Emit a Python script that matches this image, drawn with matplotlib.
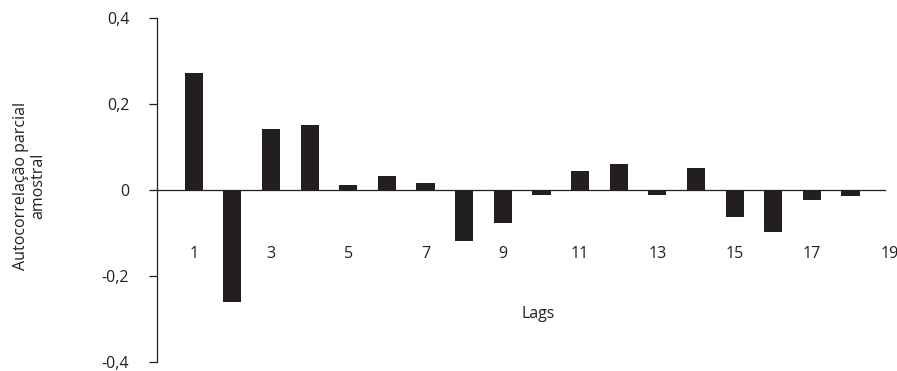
import matplotlib
matplotlib.use('Agg')
import matplotlib.pyplot as plt

lags = list(range(1, 19))
pacf = [0.272, -0.262, 0.141, 0.152, 0.011, 0.033, 0.017, -0.120, -0.078, -0.012,
        0.045, 0.061, -0.012, 0.050, -0.064, -0.097, -0.024, -0.014]
tick_lags = [1, 3, 5, 7, 9, 11, 13, 15, 17, 19]
y_ticks = [-0.4, -0.2, 0, 0.2, 0.4]
y_labels = ['-0,4', '-0,2', '0', '0,2', '0,4']

plt.rcParams['font.family'] = ['Open Sans', 'DejaVu Sans']
col = '#231f20'

fig = plt.figure(figsize=(8.97, 3.71), dpi=100)
ax = fig.add_axes([0.175, 0.025, 0.812, 0.926])

ax.bar(lags, pacf, width=0.47, color=col, zorder=3)

ax.set_xlim(0.05, 18.9)
ax.set_ylim(-0.4, 0.4)

ax.spines['top'].set_visible(False)
ax.spines['right'].set_visible(False)
ax.spines['bottom'].set_position(('data', 0))
ax.spines['bottom'].set_color(col)
ax.spines['left'].set_color(col)
ax.spines['bottom'].set_linewidth(0.9)
ax.spines['left'].set_linewidth(0.9)

ax.set_xticks([])
ax.set_yticks(y_ticks)
ax.set_yticklabels(y_labels, fontsize=11.5, color=col)
ax.tick_params(axis='y', direction='out', length=6, width=0.9, color=col, pad=14)

for lag in tick_lags:
    ax.text(lag, -0.15, str(lag), ha='center', va='center', fontsize=11.5,
            color=col, clip_on=False)

ax.text(9.92, -0.29, 'Lags', ha='center', va='center', fontsize=11.5, color=col)

fig.text(0.033, 0.5, 'Autocorrelação parcial\namostral', rotation=90,
         ha='center', va='center', fontsize=11.5, color=col, linespacing=1.1)

fig.savefig('out.png', dpi=100)
